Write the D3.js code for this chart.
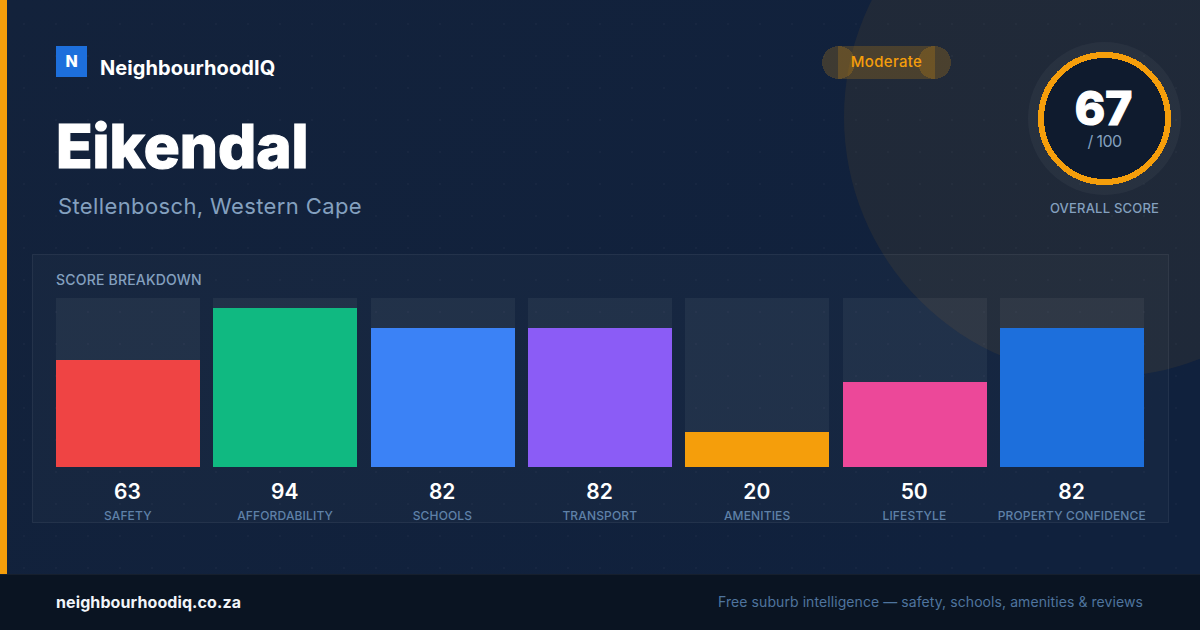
<!DOCTYPE html>
<html>
<head>
<meta charset="utf-8">
<script src="https://cdn.jsdelivr.net/npm/d3@7"></script>
<style>
html, body { margin: 0; padding: 0; background: #0f2240; overflow: hidden; }
svg { display: block; font-family: Inter, sans-serif; }
</style>
</head>
<body>
<div id="card"></div>
<script>
// Chart data
var categories = ["SAFETY", "AFFORDABILITY", "SCHOOLS", "TRANSPORT", "AMENITIES", "LIFESTYLE", "PROPERTY CONFIDENCE"];
var scores = [63, 94, 82, 82, 20, 50, 82];
var barColors = ["#ef4444", "#10b981", "#3b82f6", "#8b5cf6", "#f59e0b", "#ec4899", "#1d6fdc"];
var overallScore = 67;
var overallMax = 100;

var W = 1200, H = 630;
var svg = d3.select("#card").append("svg").attr("width", W).attr("height", H);
var defs = svg.append("defs");

var grad = defs.append("linearGradient").attr("id", "bg")
    .attr("x1", "0%").attr("y1", "0%").attr("x2", "100%").attr("y2", "60%");
grad.append("stop").attr("offset", "0%").attr("stop-color", "#13223b");
grad.append("stop").attr("offset", "100%").attr("stop-color", "#10213d");

var dots = defs.append("pattern").attr("id", "dots").attr("patternUnits", "userSpaceOnUse")
    .attr("width", 32).attr("height", 32);
dots.append("circle").attr("cx", 24).attr("cy", 24).attr("r", 1).attr("fill", "#ffffff").attr("fill-opacity", 0.03);

// Background
svg.append("rect").attr("width", W).attr("height", H).attr("fill", "url(#bg)");
svg.append("circle").attr("cx", 1104).attr("cy", 117).attr("r", 260).attr("fill", "#f59e0b").attr("fill-opacity", 0.07);
svg.append("rect").attr("width", W).attr("height", H).attr("fill", "url(#dots)");
svg.append("rect").attr("width", 7).attr("height", 574).attr("fill", "#f59e0b");

// Brand
svg.append("rect").attr("x", 56).attr("y", 46).attr("width", 31).attr("height", 31).attr("fill", "#1d6fdc");
svg.append("text").attr("x", 71.5).attr("y", 67).attr("text-anchor", "middle")
    .attr("font-size", 16).attr("font-weight", 800).attr("fill", "#fff").text("N");
svg.append("text").attr("x", 100).attr("y", 75).attr("font-size", 20).attr("font-weight", 700)
    .attr("letter-spacing", 0.07).attr("fill", "#fff").text("NeighbourhoodIQ");

// Titles, the thin stroke thickens them to the reference's weight
svg.append("text").attr("x", 56).attr("y", 168).attr("font-size", 60).attr("font-weight", 800)
    .attr("stroke", "#fff").attr("stroke-width", 1.2).attr("fill", "#fff").text("Eikendal");
svg.append("text").attr("x", 58).attr("y", 214).attr("font-size", 22).attr("letter-spacing", 0.38)
    .attr("fill", "#84a0bf").text("Stellenbosch, Western Cape");

// Rating pill
var pill = svg.append("g").attr("fill", "#f59e0b").attr("fill-opacity", 0.2).attr("shape-rendering", "crispEdges");
pill.append("rect").attr("x", 838).attr("y", 46).attr("width", 97).attr("height", 33);
pill.append("circle").attr("cx", 838.5).attr("cy", 62.5).attr("r", 16.5);
pill.append("circle").attr("cx", 934.5).attr("cy", 62.5).attr("r", 16.5);
svg.append("text").attr("x", 886.5).attr("y", 67).attr("text-anchor", "middle").attr("font-size", 15)
    .attr("letter-spacing", 0.3).attr("font-weight", 500).attr("fill", "#f59e0b").text("Moderate");

// Overall score ring
svg.append("circle").attr("cx", 1104.5).attr("cy", 118.5).attr("r", 76.5).attr("fill", "#ffffff").attr("fill-opacity", 0.04);
svg.append("circle").attr("cx", 1104.5).attr("cy", 118.5).attr("r", 63.5).attr("fill", "#0f1b2e")
    .attr("stroke", "#f59e0b").attr("stroke-width", 6).attr("shape-rendering", "crispEdges");
svg.append("text").attr("x", 1103.5).attr("y", 124.5).attr("text-anchor", "middle").attr("font-size", 46)
    .attr("font-weight", 800).attr("stroke", "#fff").attr("stroke-width", 1.2).attr("fill", "#fff").text(overallScore);
svg.append("text").attr("x", 1104.5).attr("y", 147).attr("text-anchor", "middle").attr("font-size", 16)
    .attr("letter-spacing", -0.6).attr("fill", "#84a0bf").text("/ " + overallMax);
svg.append("text").attr("x", 1104.5).attr("y", 213).attr("text-anchor", "middle").attr("font-size", 13)
    .attr("letter-spacing", 0.2).attr("font-weight", 500).attr("fill", "#84a0bf").text("OVERALL SCORE");

// Breakdown panel
svg.append("rect").attr("x", 32.5).attr("y", 254.5).attr("width", 1136).attr("height", 268)
    .attr("fill", "#ffffff").attr("fill-opacity", 0.025)
    .attr("stroke", "#ffffff").attr("stroke-opacity", 0.07);
svg.append("text").attr("x", 56).attr("y", 285).attr("font-size", 14).attr("font-weight", 500)
    .attr("letter-spacing", 0.2).attr("fill", "#84a0bf").text("SCORE BREAKDOWN");

var x = d3.scaleBand().domain(categories).range([56, 1144]).paddingInner(13.33 / 157.33);
var y = d3.scaleLinear().domain([0, 100]).range([465.6, 297.9]);
var barBottom = 467;

var cols = svg.selectAll("g.col").data(categories).enter().append("g").attr("class", "col");
cols.append("rect")
    .attr("x", function(d) { return x(d); })
    .attr("y", y(100))
    .attr("width", x.bandwidth())
    .attr("height", barBottom - y(100))
    .attr("fill", "#ffffff").attr("fill-opacity", 0.05)
    .attr("shape-rendering", "crispEdges");
cols.append("rect")
    .attr("x", function(d) { return x(d); })
    .attr("y", function(d, i) { return y(scores[i]); })
    .attr("width", x.bandwidth())
    .attr("height", function(d, i) { return barBottom - y(scores[i]); })
    .attr("fill", function(d, i) { return barColors[i]; })
    .attr("shape-rendering", "crispEdges");
cols.append("text")
    .attr("x", function(d) { return x(d) + x.bandwidth() / 2 - 0.5; })
    .attr("y", 499)
    .attr("text-anchor", "middle").attr("font-size", 21).attr("font-weight", 600).attr("fill", "#fff")
    .text(function(d, i) { return scores[i]; });
cols.append("text")
    .attr("x", function(d) { return x(d) + x.bandwidth() / 2 - 0.2; })
    .attr("y", 520)
    .attr("text-anchor", "middle").attr("font-size", 12).attr("font-weight", 500)
    .attr("letter-spacing", 0.15).attr("fill", "#5f81a8")
    .text(function(d) { return d; });

// Footer
svg.append("rect").attr("x", 0).attr("y", 574).attr("width", W).attr("height", 56).attr("fill", "#0a1422");
svg.append("rect").attr("x", 0).attr("y", 574).attr("width", W).attr("height", 1).attr("fill", "#ffffff").attr("fill-opacity", 0.05);
svg.append("text").attr("x", 56).attr("y", 608).attr("font-size", 16).attr("font-weight", 700)
    .attr("letter-spacing", 0.1).attr("fill", "#f1f5f9").text("neighbourhoodiq.co.za");
svg.append("text").attr("x", 1143).attr("y", 607).attr("text-anchor", "end").attr("font-size", 14)
    .attr("letter-spacing", 0.08).attr("fill", "#4f749e").text("Free suburb intelligence \u2014 safety, schools, amenities & reviews");
</script>
</body>
</html>
